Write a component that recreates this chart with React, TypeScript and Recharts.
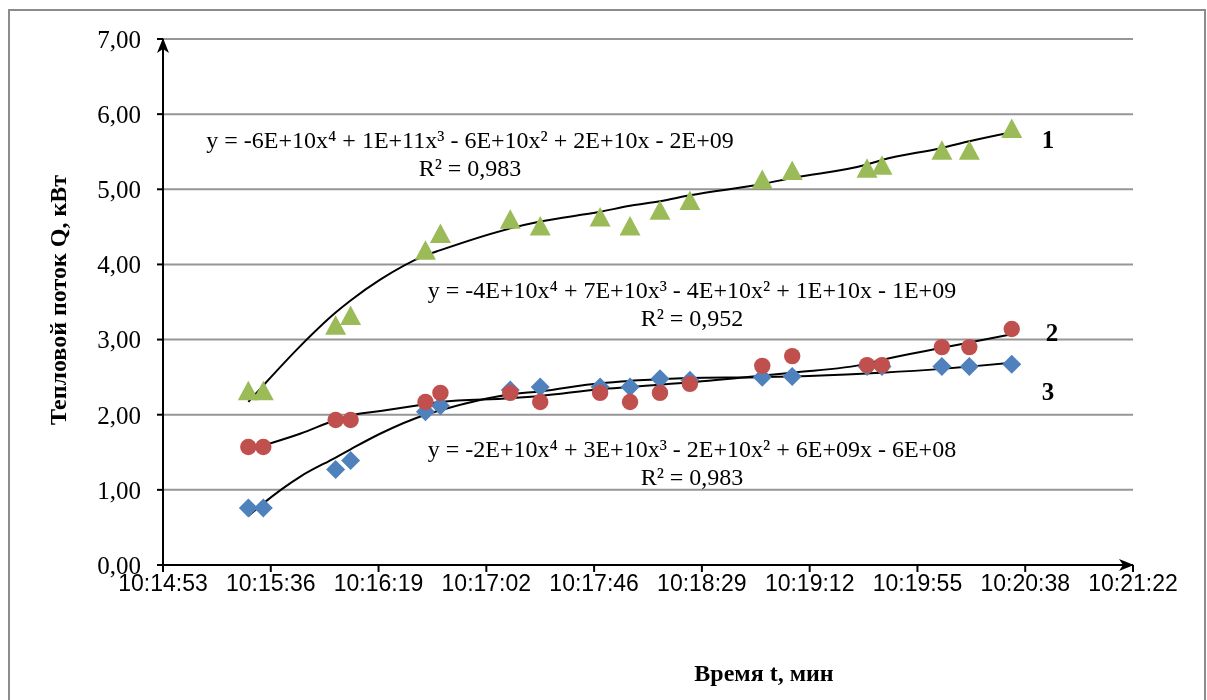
import {
  ComposedChart,
  Scatter,
  Line,
  XAxis,
  YAxis,
  CartesianGrid,
} from "recharts";

/* ======================
 * DATA
 * ====================== */

const times = [
  "10:15:27", "10:15:33", "10:16:02", "10:16:08", "10:16:38", "10:16:44",
  "10:17:12", "10:17:24", "10:17:48", "10:18:00", "10:18:12", "10:18:24",
  "10:18:53", "10:19:05", "10:19:35", "10:19:41", "10:20:05", "10:20:16",
  "10:20:33",
];

// series 1 (green triangles)
const q1 = [
  2.32, 2.32, 3.19, 3.32, 4.19, 4.41, 4.6, 4.51, 4.63, 4.51, 4.72, 4.85,
  5.13, 5.25, 5.28, 5.32, 5.52, 5.52, 5.81,
];
// series 2 (red circles)
const q2 = [
  1.57, 1.57, 1.93, 1.93, 2.17, 2.29, 2.29, 2.17, 2.29, 2.17, 2.29, 2.41,
  2.65, 2.78, 2.66, 2.66, 2.9, 2.9, 3.14,
];
// series 3 (blue diamonds)
const q3 = [
  0.76, 0.76, 1.27, 1.39, 2.04, 2.12, 2.33, 2.37, 2.37, 2.37, 2.48, 2.46,
  2.5, 2.51, 2.64, 2.64, 2.64, 2.64, 2.67,
];

// trendlines
const trendTimes = [
  "10:15:27", "10:15:33", "10:15:48", "10:16:02", "10:16:08", "10:16:20",
  "10:16:38", "10:16:44", "10:17:12", "10:17:24", "10:17:48", "10:18:00",
  "10:18:12", "10:18:24", "10:18:53", "10:19:05", "10:19:35", "10:19:41",
  "10:20:05", "10:20:16", "10:20:33",
];
const trend1 = [
  2.17, 2.39, 2.92, 3.36, 3.52, 3.8, 4.12, 4.19, 4.48, 4.57, 4.7, 4.78,
  4.84, 4.92, 5.07, 5.15, 5.33, 5.39, 5.55, 5.64, 5.76,
];
const trend2 = [
  1.53, 1.59, 1.75, 1.93, 1.99, 2.05, 2.14, 2.17, 2.22, 2.25, 2.34, 2.37,
  2.4, 2.43, 2.52, 2.56, 2.68, 2.73, 2.89, 2.96, 3.07,
];
const trend3 = [
  0.65, 0.82, 1.18, 1.43, 1.54, 1.75, 2.0, 2.06, 2.27, 2.31, 2.42, 2.45,
  2.47, 2.49, 2.5, 2.51, 2.55, 2.56, 2.61, 2.64, 2.69,
];

const xTickLabels = [
  "10:14:53", "10:15:36", "10:16:19", "10:17:02", "10:17:46",
  "10:18:29", "10:19:12", "10:19:55", "10:20:38", "10:21:22",
];
const xTickValues = [
  36892.8, 36936, 36979.2, 37022.4, 37065.6, 37108.8, 37152, 37195.2,
  37238.4, 37281.6,
];
const yTicks = [0, 1, 2, 3, 4, 5, 6, 7];

/* ======================
 * HELPERS
 * ====================== */

function toSec(s: string): number {
  const [h, m, sec] = s.split(":").map(Number);
  return h * 3600 + m * 60 + sec;
}

const build = (ts: string[], vs: number[]) =>
  ts.map((t, i) => ({ t: toSec(t), v: vs[i] }));

const pts1 = build(times, q1);
const pts2 = build(times, q2);
const pts3 = build(times, q3);
const line1 = build(trendTimes, trend1);
const line2 = build(trendTimes, trend2);
const line3 = build(trendTimes, trend3);

const SERIF = "'Liberation Serif', 'Times New Roman', serif";
const SANS = "'Liberation Sans', Arial, sans-serif";

const Triangle = (p: any) => (
  <polygon
    points={`${p.cx},${p.cy - 10} ${p.cx + 10.5},${p.cy + 9.5} ${p.cx - 10.5},${p.cy + 9.5}`}
    fill="#9BBB59"
  />
);
const Circle = (p: any) => <circle cx={p.cx} cy={p.cy} r={8.2} fill="#C0504D" />;
const Diamond = (p: any) => (
  <polygon
    points={`${p.cx},${p.cy - 9.5} ${p.cx + 9.5},${p.cy} ${p.cx},${p.cy + 9.5} ${p.cx - 9.5},${p.cy}`}
    fill="#4F81BD"
  />
);

const fmtY = (v: number) => v.toFixed(2).replace(".", ",");
const fmtX = (v: number) => {
  const i = xTickValues.findIndex((x) => Math.abs(x - v) < 0.01);
  return i >= 0 ? xTickLabels[i] : "";
};

const eqStyle = (cx: number, top: number): React.CSSProperties => ({
  position: "absolute",
  left: cx - 350,
  top,
  width: 700,
  textAlign: "center",
  fontFamily: SERIF,
  fontSize: 24,
  lineHeight: "28px",
  color: "#000",
  whiteSpace: "nowrap",
});

const numStyle = (x: number, y: number): React.CSSProperties => ({
  position: "absolute",
  left: x - 10,
  top: y - 14,
  width: 20,
  textAlign: "center",
  fontFamily: SERIF,
  fontWeight: "bold",
  fontSize: 25,
  lineHeight: "28px",
});

/* ======================
 * COMPONENT
 * ====================== */

export default function App() {
  return (
    <div style={{ position: "relative", width: 1207, height: 700 }}>
      <svg width={0} height={0} style={{ position: "absolute" }}>
        <defs>
          <marker
            id="arr"
            markerUnits="userSpaceOnUse"
            markerWidth={16}
            markerHeight={12}
            refX={14}
            refY={6}
            orient="auto-start-reverse"
          >
            <path d="M0,0 L15,6 L0,12 L4,6 z" fill="#000" />
          </marker>
        </defs>
      </svg>

      <div
        style={{
          position: "fixed",
          left: 8,
          top: 9,
          width: 1198,
          height: 730,
          boxSizing: "border-box",
          border: "2px solid #8c8c8c",
        }}
      />

      <div style={{ position: "fixed", left: 0, top: 0 }}>
        <ComposedChart
          width={1207}
          height={700}
          margin={{ top: 39, right: 74, bottom: 0, left: 0 }}
        >
          <CartesianGrid
            horizontal
            vertical={false}
            stroke="#969696"
            strokeWidth={2}
          />
          <XAxis
            type="number"
            dataKey="t"
            domain={[36892.8, 37281.6]}
            allowDataOverflow
            ticks={xTickValues}
            interval={0}
            tickFormatter={fmtX}
            height={135}
            tickSize={7}
            tickMargin={3}
            axisLine={{ stroke: "#000", strokeWidth: 2, markerEnd: "url(#arr)" }}
            tickLine={{ stroke: "#000", strokeWidth: 2 }}
            tick={{ fill: "#000", fontFamily: SANS, fontSize: 23 }}
          />
          <YAxis
            type="number"
            domain={[0, 7]}
            ticks={yTicks}
            interval={0}
            tickFormatter={fmtY}
            width={163}
            tickSize={6}
            tickMargin={16}
            axisLine={{ stroke: "#000", strokeWidth: 2, markerStart: "url(#arr)" }}
            tickLine={{ stroke: "#000", strokeWidth: 2 }}
            tick={{ fill: "#000", fontFamily: SERIF, fontSize: 25 }}
          />
          <Scatter data={pts3} dataKey="v" shape={Diamond} isAnimationActive={false} />
          <Scatter data={pts2} dataKey="v" shape={Circle} isAnimationActive={false} />
          <Scatter data={pts1} dataKey="v" shape={Triangle} isAnimationActive={false} />
          <Line data={line1} dataKey="v" type="monotone" stroke="#000" strokeWidth={2} dot={false} isAnimationActive={false} />
          <Line data={line2} dataKey="v" type="monotone" stroke="#000" strokeWidth={2} dot={false} isAnimationActive={false} />
          <Line data={line3} dataKey="v" type="monotone" stroke="#000" strokeWidth={2} dot={false} isAnimationActive={false} />
        </ComposedChart>

        <div style={eqStyle(470, 126)}>
          y = -6E+10x⁴ + 1E+11x³ - 6E+10x² + 2E+10x - 2E+09
          <br />
          R² = 0,983
        </div>
        <div style={eqStyle(692, 276)}>
          y = -4E+10x⁴ + 7E+10x³ - 4E+10x² + 1E+10x - 1E+09
          <br />
          R² = 0,952
        </div>
        <div style={eqStyle(692, 435)}>
          y = -2E+10x⁴ + 3E+10x³ - 2E+10x² + 6E+09x - 6E+08
          <br />
          R² = 0,983
        </div>

        <div style={numStyle(1048, 140)}>1</div>
        <div style={numStyle(1052, 333)}>2</div>
        <div style={numStyle(1048, 392)}>3</div>

        <div
          style={{
            position: "absolute",
            left: 58 - 200,
            top: 300 - 15,
            width: 400,
            height: 30,
            lineHeight: "30px",
            textAlign: "center",
            transform: "rotate(-90deg)",
            fontFamily: SERIF,
            fontWeight: "bold",
            fontSize: 24,
          }}
        >
          Тепловой поток Q, кВт
        </div>
        <div
          style={{
            position: "absolute",
            left: 764 - 200,
            top: 673 - 15,
            width: 400,
            lineHeight: "30px",
            textAlign: "center",
            fontFamily: SERIF,
            fontWeight: "bold",
            fontSize: 24,
          }}
        >
          Время t, мин
        </div>
      </div>
    </div>
  );
}
